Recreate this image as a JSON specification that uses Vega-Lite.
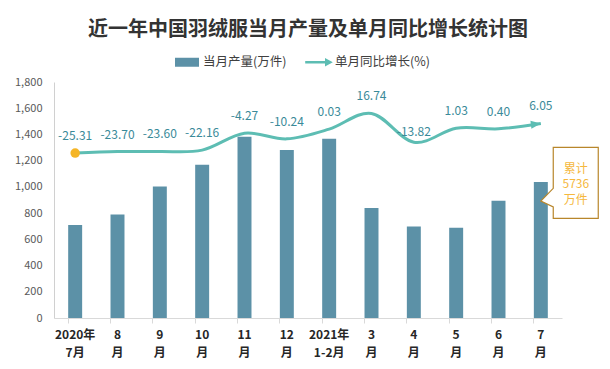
{
  "$schema": "https://vega.github.io/schema/vega-lite/v6.json",
  "width": 508,
  "height": 236,
  "autosize": {"type": "none"},
  "padding": {"left": 54, "top": 82, "right": 48, "bottom": 51},
  "background": "white",
  "title": {
    "text": "近一年中国羽绒服当月产量及单月同比增长统计图",
    "font": "Noto Sans CJK SC",
    "fontSize": 20,
    "fontWeight": "bold",
    "color": "#333333",
    "anchor": "middle",
    "offset": 10
  },
  "config": {"view": {"stroke": null}, "font": "Noto Sans CJK SC", "axisY": {"labelOverlap": false}},
  "data": {
    "values": [
      {"month": "2020年|7月", "prod": 710, "yoy": -25.31},
      {"month": "8|月", "prod": 790, "yoy": -23.70},
      {"month": "9|月", "prod": 1003, "yoy": -23.60},
      {"month": "10|月", "prod": 1168, "yoy": -22.16},
      {"month": "11|月", "prod": 1383, "yoy": -4.27},
      {"month": "12|月", "prod": 1281, "yoy": -10.24},
      {"month": "2021年|1-2月", "prod": 1367, "yoy": 0.03},
      {"month": "3|月", "prod": 839, "yoy": 16.74},
      {"month": "4|月", "prod": 697, "yoy": -13.82},
      {"month": "5|月", "prod": 689, "yoy": 1.03},
      {"month": "6|月", "prod": 895, "yoy": 0.40},
      {"month": "7|月", "prod": 1038, "yoy": 6.05}
    ]
  },
  "layer": [
    {
      "encoding": {
        "x": {
          "field": "month", "type": "nominal", "sort": null,
          "scale": {"paddingInner": 0.67, "paddingOuter": 0.335},
          "axis": {
            "title": null, "labelAngle": 0,
            "labelExpr": "split(datum.label, '|')",
            "labelFontSize": 12, "labelFontWeight": "bold", "labelColor": "#262626",
            "labelLineHeight": 18, "labelPadding": 6,
            "domainColor": "#D9D9D9", "tickColor": "#D9D9D9", "tickSize": 5,
            "bandPosition": 0
          }
        },
        "y": {
          "field": "prod", "type": "quantitative",
          "scale": {"domain": [0, 1800], "nice": false},
          "axis": {
            "title": null, "values": [0, 200, 400, 600, 800, 1000, 1200, 1400, 1600, 1800],
            "format": ",d", "grid": false, "ticks": false, "labelOverlap": false, "labelFlush": false,
            "domainColor": "#D0D0D0", "labelColor": "#595959",
            "labelFontSize": 11, "labelPadding": 12
          }
        }
      },
      "layer": [
        {
          "mark": {"type": "bar"},
          "encoding": {
            "color": {
              "datum": "当月产量(万件)",
              "scale": {"domain": ["当月产量(万件)", "单月同比增长(%)"], "range": ["#5C91A7", "#5DBDB3"]},
              "legend": {
                "orient": "none", "legendX": 121, "legendY": -32,
                "direction": "horizontal", "title": null,
                "labelFontSize": 12.5, "labelColor": "#404040", "labelFont": "Noto Sans CJK SC",
                "symbolSize": 576, "symbolStrokeWidth": 0, "columnPadding": 18, "labelOffset": 4,
                "encode": {
                  "symbols": {
                    "update": {
                      "shape": {"signal": "datum.value === '当月产量(万件)' ? 'M-1,-0.375H1V0.375H-1Z' : 'M-1.15,-0.11H0.5V-0.36L1.15,0L0.5,0.36V0.11H-1.15Z'"},
                      "fill": {"signal": "datum.value === '当月产量(万件)' ? '#5C91A7' : '#5DBDB3'"},
                      "strokeWidth": {"value": 0},
                      "opacity": {"value": 1}
                    }
                  }
                }
              }
            }
          }
        },
        {
          "transform": [{"filter": "datum.month === '7|月'"}],
          "mark": {
            "type": "point",
            "shape": "M0.207,-0.577L0.957,-0.577L0.957,0.607L0.207,0.607L0.207,0.418L0,0.318L0.207,0.107Z",
            "size": 14400, "filled": true, "fill": "white", "stroke": "#B8862B", "strokeWidth": 1.2, "opacity": 1
          }
        },
        {
          "transform": [{"filter": "datum.month === '7|月'"}],
          "mark": {
            "type": "text", "lineBreak": "\n", "dx": 35, "dy": -13,
            "color": "#F5B83D", "fontSize": 12, "lineHeight": 15.5, "baseline": "middle", "align": "center"
          },
          "encoding": {
            "text": {"value": "累计\n5736\n万件"}
          }
        }
      ]
    },
    {
      "transform": [{"calculate": "replace(format(datum.yoy, '.2f'), '\u2212', '-')", "as": "lab"}],
      "encoding": {
        "x": {"field": "month", "type": "nominal", "sort": null},
        "y": {"field": "yoy", "type": "quantitative", "scale": {"domain": [-200, 50], "nice": false, "zero": false}, "axis": null}
      },
      "layer": [
        {
          "mark": {"type": "line", "interpolate": "cardinal", "strokeWidth": 3},
          "encoding": {
            "color": {"datum": "单月同比增长(%)"}
          }
        },
        {
          "transform": [{"filter": "datum.month !== '4|月'"}],
          "mark": {"type": "text", "dy": -17, "color": "#3A8A99", "fontSize": 12},
          "encoding": {
            "text": {"field": "lab", "type": "nominal"}
          }
        },
        {
          "transform": [{"filter": "datum.month === '4|月'"}],
          "mark": {"type": "text", "dy": -10, "color": "#3A8A99", "fontSize": 12},
          "encoding": {
            "text": {"field": "lab", "type": "nominal"}
          }
        },
        {
          "transform": [{"filter": "datum.month === '2020年|7月'"}],
          "mark": {"type": "point", "shape": "circle", "size": 90, "filled": true, "color": "#F5B526", "opacity": 1}
        },
        {
          "transform": [{"filter": "datum.month === '7|月'"}],
          "mark": {"type": "point", "shape": "M-2,-0.8L0,0L-2,0.8Z", "size": 100, "filled": true, "color": "#5DBDB3", "opacity": 1, "angle": -7}
        }
      ]
    }
  ],
  "resolve": {"scale": {"y": "independent"}}
}
